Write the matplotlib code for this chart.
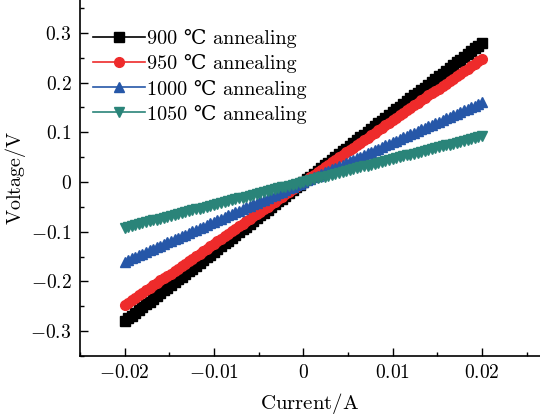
import numpy as np
import matplotlib
matplotlib.use("Agg")
import matplotlib.pyplot as plt
from matplotlib.ticker import MultipleLocator

plt.rcParams['font.family'] = ['cmr10', 'DejaVu Serif']
plt.rcParams['mathtext.fontset'] = 'cm'
plt.rcParams['axes.unicode_minus'] = True

# current sweep (A), 101 points from -0.02 A to 0.02 A
current = np.linspace(-0.02, 0.02, 101)

v_900 = [-0.280, -0.274, -0.269, -0.263, -0.258, -0.252, -0.246, -0.241, -0.235, -0.230,
         -0.224, -0.218, -0.213, -0.207, -0.202, -0.196, -0.190, -0.185, -0.179, -0.174,
         -0.168, -0.162, -0.157, -0.151, -0.146, -0.140, -0.134, -0.129, -0.123, -0.118,
         -0.112, -0.106, -0.101, -0.095, -0.090, -0.084, -0.078, -0.073, -0.067, -0.062,
         -0.056, -0.050, -0.045, -0.039, -0.034, -0.028, -0.022, -0.017, -0.011, -0.006,
         0.000,
         0.006, 0.011, 0.017, 0.022, 0.028, 0.034, 0.039, 0.045, 0.050, 0.056,
         0.062, 0.067, 0.073, 0.078, 0.084, 0.090, 0.095, 0.101, 0.106, 0.112,
         0.118, 0.123, 0.129, 0.134, 0.140, 0.146, 0.151, 0.157, 0.162, 0.168,
         0.174, 0.179, 0.185, 0.190, 0.196, 0.202, 0.207, 0.213, 0.218, 0.224,
         0.230, 0.235, 0.241, 0.246, 0.252, 0.258, 0.263, 0.269, 0.274, 0.280]

v_950 = [-0.248, -0.243, -0.238, -0.233, -0.228, -0.223, -0.218, -0.213, -0.208, -0.203,
         -0.198, -0.193, -0.188, -0.184, -0.179, -0.174, -0.169, -0.164, -0.159, -0.154,
         -0.149, -0.144, -0.139, -0.134, -0.129, -0.124, -0.119, -0.114, -0.109, -0.104,
         -0.099, -0.094, -0.089, -0.084, -0.079, -0.074, -0.069, -0.064, -0.060, -0.055,
         -0.050, -0.045, -0.040, -0.035, -0.030, -0.025, -0.020, -0.015, -0.010, -0.005,
         0.000,
         0.005, 0.010, 0.015, 0.020, 0.025, 0.030, 0.035, 0.040, 0.045, 0.050,
         0.055, 0.060, 0.064, 0.069, 0.074, 0.079, 0.084, 0.089, 0.094, 0.099,
         0.104, 0.109, 0.114, 0.119, 0.124, 0.129, 0.134, 0.139, 0.144, 0.149,
         0.154, 0.159, 0.164, 0.169, 0.174, 0.179, 0.184, 0.188, 0.193, 0.198,
         0.203, 0.208, 0.213, 0.218, 0.223, 0.228, 0.233, 0.238, 0.243, 0.248]

v_1000 = [-0.1600, -0.1568, -0.1536, -0.1504, -0.1472, -0.1440, -0.1408, -0.1376, -0.1344, -0.1312,
          -0.1280, -0.1248, -0.1216, -0.1184, -0.1152, -0.1120, -0.1088, -0.1056, -0.1024, -0.0992,
          -0.0960, -0.0928, -0.0896, -0.0864, -0.0832, -0.0800, -0.0768, -0.0736, -0.0704, -0.0672,
          -0.0640, -0.0608, -0.0576, -0.0544, -0.0512, -0.0480, -0.0448, -0.0416, -0.0384, -0.0352,
          -0.0320, -0.0288, -0.0256, -0.0224, -0.0192, -0.0160, -0.0128, -0.0096, -0.0064, -0.0032,
          0.0000,
          0.0032, 0.0064, 0.0096, 0.0128, 0.0160, 0.0192, 0.0224, 0.0256, 0.0288, 0.0320,
          0.0352, 0.0384, 0.0416, 0.0448, 0.0480, 0.0512, 0.0544, 0.0576, 0.0608, 0.0640,
          0.0672, 0.0704, 0.0736, 0.0768, 0.0800, 0.0832, 0.0864, 0.0896, 0.0928, 0.0960,
          0.0992, 0.1024, 0.1056, 0.1088, 0.1120, 0.1152, 0.1184, 0.1216, 0.1248, 0.1280,
          0.1312, 0.1344, 0.1376, 0.1408, 0.1440, 0.1472, 0.1504, 0.1536, 0.1568, 0.1600]

v_1050 = [-0.0920, -0.0902, -0.0883, -0.0865, -0.0846, -0.0828, -0.0810, -0.0791, -0.0773, -0.0754,
          -0.0736, -0.0718, -0.0699, -0.0681, -0.0662, -0.0644, -0.0626, -0.0607, -0.0589, -0.0570,
          -0.0552, -0.0534, -0.0515, -0.0497, -0.0478, -0.0460, -0.0442, -0.0423, -0.0405, -0.0386,
          -0.0368, -0.0350, -0.0331, -0.0313, -0.0294, -0.0276, -0.0258, -0.0239, -0.0221, -0.0202,
          -0.0184, -0.0166, -0.0147, -0.0129, -0.0110, -0.0092, -0.0074, -0.0055, -0.0037, -0.0018,
          0.0000,
          0.0018, 0.0037, 0.0055, 0.0074, 0.0092, 0.0110, 0.0129, 0.0147, 0.0166, 0.0184,
          0.0202, 0.0221, 0.0239, 0.0258, 0.0276, 0.0294, 0.0313, 0.0331, 0.0350, 0.0368,
          0.0386, 0.0405, 0.0423, 0.0442, 0.0460, 0.0478, 0.0497, 0.0515, 0.0534, 0.0552,
          0.0570, 0.0589, 0.0607, 0.0626, 0.0644, 0.0662, 0.0681, 0.0699, 0.0718, 0.0736,
          0.0754, 0.0773, 0.0791, 0.0810, 0.0828, 0.0846, 0.0865, 0.0883, 0.0902, 0.0920]

labels = ['900 ℃ annealing', '950 ℃ annealing', '1000 ℃ annealing', '1050 ℃ annealing']
colors = ['#000000', '#ee2b2b', '#2657a8', '#2a8479']
markers = ['s', 'o', '^', 'v']

xticks = [-0.02, -0.01, 0, 0.01, 0.02]
xticklabels = [r'$-0.02$', r'$-0.01$', r'$0$', r'$0.01$', r'$0.02$']
yticks = [-0.3, -0.2, -0.1, 0, 0.1, 0.2, 0.3]
yticklabels = [r'$-0.3$', r'$-0.2$', r'$-0.1$', r'$0$', r'$0.1$', r'$0.2$', r'$0.3$']

fig = plt.figure(figsize=(5.4, 4.15), dpi=100)
ax = fig.add_axes([0.148, 0.142, 0.852, 0.858])

for v, lab, c, m in zip([v_900, v_950, v_1000, v_1050], labels, colors, markers):
    ax.plot(current, v, color=c, marker=m, markersize=7, linewidth=1.2, label=lab)

ax.set_xlim(-0.025, 0.0265)
ax.set_ylim(-0.35, 0.366)
ax.set_xticks(xticks)
ax.set_xticklabels(xticklabels, fontsize=14)
ax.set_yticks(yticks)
ax.set_yticklabels(yticklabels, fontsize=14)
ax.xaxis.set_minor_locator(MultipleLocator(0.005))
ax.yaxis.set_minor_locator(MultipleLocator(0.05))
ax.tick_params(which='both', direction='in', top=False, right=False)
ax.tick_params(which='major', length=6, width=1, pad=6)
ax.tick_params(which='minor', length=3, width=1)
ax.spines['top'].set_visible(False)
ax.spines['right'].set_visible(False)
ax.spines['left'].set_linewidth(1.2)
ax.spines['bottom'].set_linewidth(1.2)

ax.set_xlabel(r'$\mathrm{Current/A}$', fontsize=15, labelpad=6)
ax.set_ylabel(r'$\mathrm{Voltage/V}$', fontsize=14.5, labelpad=2)

leg = ax.legend(loc='upper left', bbox_to_anchor=(0.011, 0.94), frameon=False,
                fontsize=14.5, handlelength=2.6, handletextpad=0.1,
                labelspacing=0.3, borderaxespad=0.0)

fig.savefig('out.png', dpi=100)
